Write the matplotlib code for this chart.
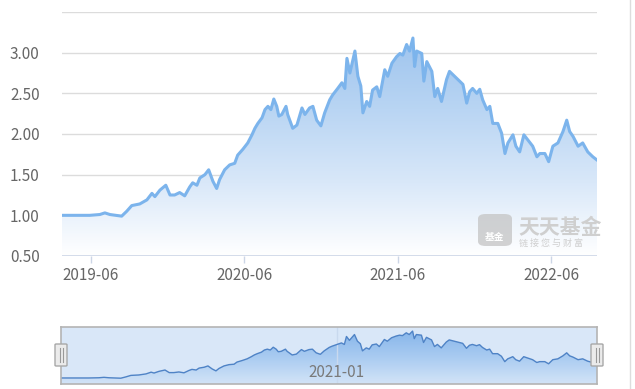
import matplotlib
matplotlib.use("Agg")
import matplotlib.pyplot as plt
import matplotlib.dates as mdates
import numpy as np
import pandas as pd
from matplotlib.colors import LinearSegmentedColormap
from matplotlib.patches import FancyBboxPatch
from matplotlib.lines import Line2D

plt.rcParams['font.family'] = ['Noto Sans CJK SC', 'DejaVu Sans']

dates = [
    "2019-03-25", "2019-04-13", "2019-05-07", "2019-05-30", "2019-06-23", "2019-07-05",
    "2019-07-17", "2019-07-31", "2019-08-14", "2019-08-26", "2019-09-07", "2019-09-17",
    "2019-09-26", "2019-10-13", "2019-10-25", "2019-11-01", "2019-11-13", "2019-11-27",
    "2019-12-07", "2019-12-18", "2019-12-30", "2020-01-11", "2020-01-23", "2020-01-30",
    "2020-02-09", "2020-02-16", "2020-02-28", "2020-03-08", "2020-03-18", "2020-03-27",
    "2020-04-03", "2020-04-15", "2020-04-27", "2020-05-09", "2020-05-16", "2020-05-28",
    "2020-06-09", "2020-06-19", "2020-06-26", "2020-07-03", "2020-07-13", "2020-07-20",
    "2020-07-27", "2020-08-03", "2020-08-10", "2020-08-17", "2020-08-22", "2020-08-29",
    "2020-09-08", "2020-09-12", "2020-09-24", "2020-10-04", "2020-10-16", "2020-10-23",
    "2020-11-03", "2020-11-11", "2020-11-20", "2020-11-30", "2020-12-09", "2020-12-21",
    "2020-12-28", "2021-01-09", "2021-01-19", "2021-01-26", "2021-01-31", "2021-02-07",
    "2021-02-19", "2021-02-26", "2021-03-05", "2021-03-10", "2021-03-19", "2021-03-26",
    "2021-04-02", "2021-04-12", "2021-04-19", "2021-05-01", "2021-05-08", "2021-05-18",
    "2021-05-29", "2021-06-06", "2021-06-13", "2021-06-22", "2021-06-29", "2021-07-07",
    "2021-07-11", "2021-07-16", "2021-07-28", "2021-08-02", "2021-08-09", "2021-08-21",
    "2021-08-28", "2021-09-04", "2021-09-13", "2021-09-25", "2021-10-02", "2021-10-10",
    "2021-10-22", "2021-11-03", "2021-11-12", "2021-11-19", "2021-11-26", "2021-12-06",
    "2021-12-13", "2021-12-20", "2021-12-30", "2022-01-06", "2022-01-13", "2022-01-25",
    "2022-02-03", "2022-02-11", "2022-02-18", "2022-03-02", "2022-03-09", "2022-03-18",
    "2022-03-28", "2022-04-06", "2022-04-18", "2022-04-28", "2022-05-05", "2022-05-17",
    "2022-05-26", "2022-06-05", "2022-06-17", "2022-06-29", "2022-07-08", "2022-07-15",
    "2022-07-23", "2022-08-04", "2022-08-15", "2022-08-27", "2022-09-08", "2022-09-18",
]
nav = [
    1.00, 1.00, 1.00, 1.00, 1.01, 1.03,
    1.01, 1.00, 0.99, 1.05, 1.12, 1.13,
    1.14, 1.19, 1.27, 1.23, 1.31, 1.37,
    1.25, 1.25, 1.28, 1.24, 1.35, 1.40,
    1.37, 1.46, 1.50, 1.56, 1.42, 1.33,
    1.44, 1.56, 1.62, 1.64, 1.74, 1.81,
    1.89, 1.99, 2.07, 2.13, 2.20, 2.30,
    2.34, 2.30, 2.43, 2.34, 2.22, 2.24,
    2.34, 2.24, 2.07, 2.11, 2.32, 2.24,
    2.32, 2.34, 2.17, 2.10, 2.26, 2.42,
    2.48, 2.56, 2.63, 2.56, 2.93, 2.75,
    3.02, 2.71, 2.59, 2.26, 2.40, 2.34,
    2.54, 2.58, 2.46, 2.79, 2.71, 2.87,
    2.95, 2.99, 2.97, 3.10, 3.02, 3.18,
    2.83, 3.02, 2.99, 2.65, 2.89, 2.77,
    2.46, 2.56, 2.40, 2.67, 2.77, 2.73,
    2.67, 2.61, 2.38, 2.52, 2.56, 2.50,
    2.55, 2.42, 2.30, 2.34, 2.13, 2.13,
    2.01, 1.76, 1.89, 1.99, 1.85, 1.78,
    1.99, 1.93, 1.85, 1.72, 1.76, 1.76,
    1.66, 1.85, 1.89, 2.03, 2.17, 2.03,
    1.97, 1.85, 1.89, 1.78, 1.72, 1.68,
]
y_ticks = [0.5, 1.0, 1.5, 2.0, 2.5, 3.0, 3.5]
y_labels = ["0.50", "1.00", "1.50", "2.00", "2.50", "3.00", ""]
x_ticks = ["2019-06-01", "2020-06-01", "2021-06-01", "2022-06-01"]
x_labels = ["2019-06", "2020-06", "2021-06", "2022-06"]
slider_label = "2021-01"
slider_label_date = "2021-01-08"

x = pd.to_datetime(dates)
xn = mdates.date2num(x)
y = np.array(nav)

W, H = 635, 389
fig = plt.figure(figsize=(W / 100, H / 100), dpi=100)
fig.patch.set_facecolor("white")

def fx(px):
    return px / W

def fy(py):
    return 1 - py / H

# ---------- main chart ----------
ax = fig.add_axes([fx(62), fy(256), fx(597) - fx(62), fy(12) - fy(256)])
ax.set_xlim(xn[0], xn[-1])
ax.set_ylim(0.5, 3.5)
for s in ax.spines.values():
    s.set_visible(False)
ax.set_yticks(y_ticks)
ax.set_yticklabels(y_labels)
ax.grid(axis="y", color="#dcdcdc", lw=1)
ax.set_axisbelow(True)
ax.tick_params(axis="y", length=0, pad=16, labelsize=11, labelcolor="#666666")
ax.set_xticks(mdates.date2num(pd.to_datetime(x_ticks)))
ax.set_xticklabels(x_labels)
ax.tick_params(axis="x", length=5, width=1, color="#ccd6e6", pad=3,
               labelsize=11, labelcolor="#666666")
ax.axhline(0.5, color="#ccd6e6", lw=1.2, zorder=3)

cmap = LinearSegmentedColormap.from_list(
    "g", ["#ffffff", "#d9e8f9", "#b9d5f3", "#9ec4ee"])
poly = ax.fill_between(xn, y, 0.5, color="none", lw=0)
grad = np.linspace(0, 1, 256).reshape(-1, 1)
im = ax.imshow(grad, extent=[xn[0], xn[-1], 0.5, 3.2], origin="lower",
               aspect="auto", cmap=cmap, zorder=1)
im.set_clip_path(poly.get_paths()[0], transform=ax.transData)
ax.plot(xn, y, color="#7cb4ec", lw=2.2, zorder=2, solid_joinstyle="round")
ax.set_xlim(xn[0], xn[-1])
ax.set_ylim(0.5, 3.5)

# watermark
logo = FancyBboxPatch((fx(478), fy(246)), fx(34), fy(214) - fy(246),
                      boxstyle="round,pad=0,rounding_size=0.012",
                      transform=fig.transFigure, facecolor="#c4c4c4",
                      edgecolor="none", alpha=0.75, zorder=5)
fig.add_artist(logo)
fig.text(fx(495), fy(237), "基金", color="white", fontsize=7, ha="center",
         va="center", fontweight="bold", zorder=6)
fig.text(fx(518), fy(228), "天天基金", color="#cfcfcf", fontsize=15,
         ha="left", va="center", fontweight="bold", zorder=6)
fig.text(fx(519), fy(243), "链 接 您 与 财 富", color="#cfcfcf", fontsize=6.5,
         ha="left", va="center", zorder=6)

# ---------- slider ----------
sx = fig.add_axes([fx(61), fy(384), fx(597) - fx(61), fy(327) - fy(384)])
sx.set_facecolor("#d9e7f8")
sx.set_xlim(xn[0], xn[-1])
sx.set_ylim(0.72, 3.37)
sx.set_xticks([])
sx.set_yticks([])
for s in sx.spines.values():
    s.set_color("#b4b4b4")
    s.set_linewidth(1.2)
cmap2 = LinearSegmentedColormap.from_list("g2", ["#d3e4f7", "#a9cbf1", "#86b5ea"])
poly2 = sx.fill_between(xn, y, 0.72, color="none", lw=0)
im2 = sx.imshow(grad, extent=[xn[0], xn[-1], 0.72, 3.2], origin="lower",
                aspect="auto", cmap=cmap2, zorder=1)
im2.set_clip_path(poly2.get_paths()[0], transform=sx.transData)
sx.plot(xn, y, color="#4f83c6", lw=1.0, zorder=2)
mid = mdates.date2num(pd.to_datetime(slider_label_date))
sx.axvline(mid, color="#c9d9ee", lw=1, zorder=1.5)
sx.text(mid, 1.25, slider_label, ha="center", va="center", fontsize=11,
        color="#7a7a7a", zorder=3)
sx.set_xlim(xn[0], xn[-1])
sx.set_ylim(0.72, 3.37)

for hx in (55, 591):
    h = FancyBboxPatch((fx(hx), fy(366)), fx(12), fy(344) - fy(366),
                       boxstyle="round,pad=0,rounding_size=0.002",
                       transform=fig.transFigure, facecolor="#ebebeb",
                       edgecolor="#a8a8a8", lw=1, zorder=10)
    fig.add_artist(h)
    for dx in (4.5, 7.5):
        fig.add_artist(Line2D([fx(hx + dx)] * 2, [fy(362), fy(348)],
                              transform=fig.transFigure, color="#999999",
                              lw=0.8, zorder=11))

fig.add_artist(Line2D([fx(629.5)] * 2, [0, 1], transform=fig.transFigure,
                      color="#dddddd", lw=1))

fig.savefig("out.png", dpi=100)
